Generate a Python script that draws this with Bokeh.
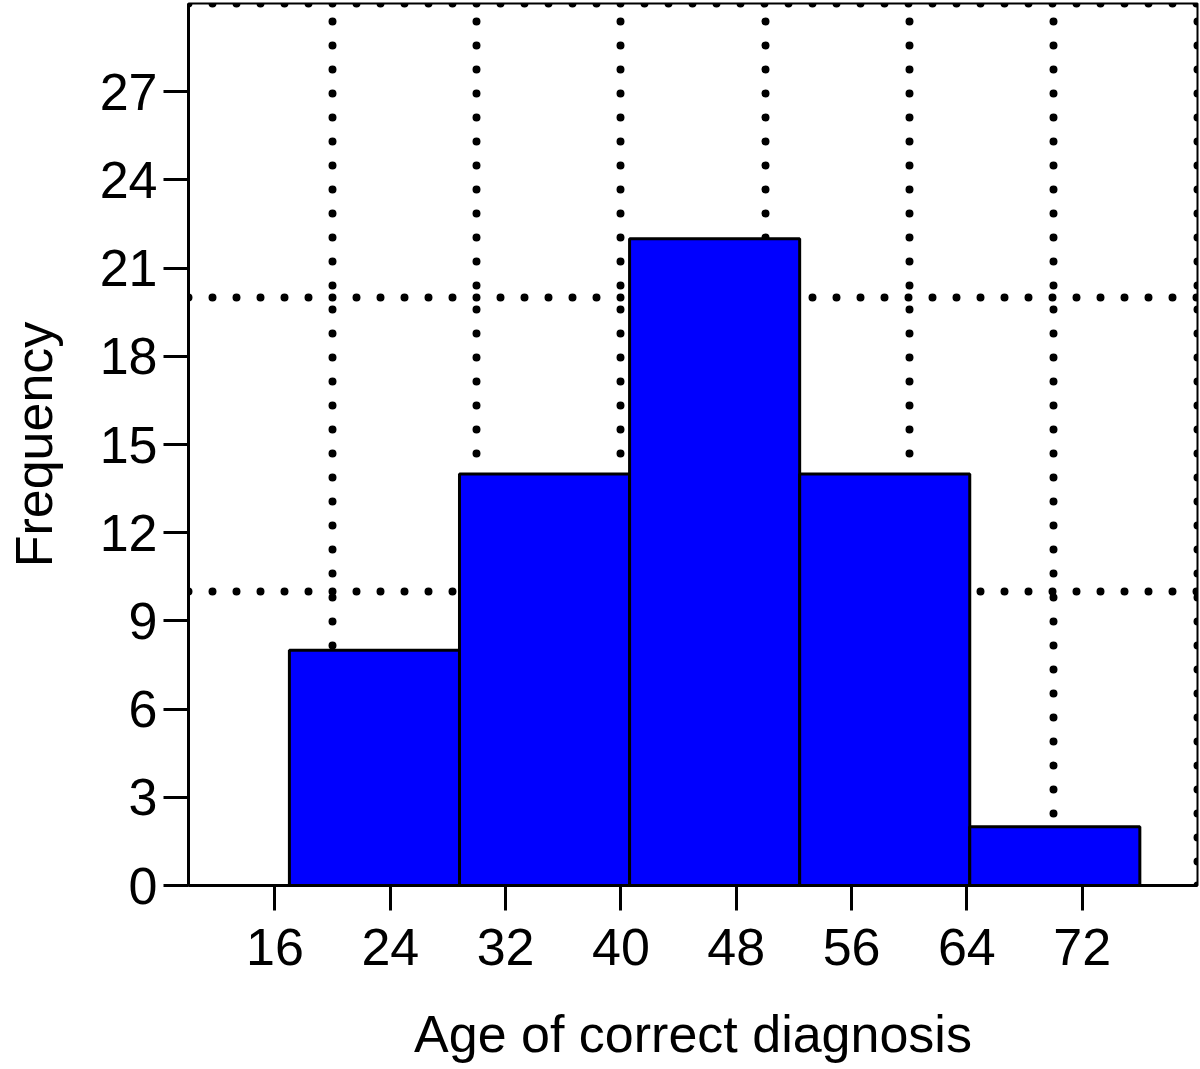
from bokeh.plotting import figure
from bokeh.models import Range1d, FixedTicker
from bokeh.embed import file_html
from bokeh.resources import INLINE

# ---- data ----
bin_edges = [17.0, 28.8, 40.6, 52.4, 64.2, 76.0]
frequencies = [8, 14, 22, 14, 2]
x_ticks = [16, 24, 32, 40, 48, 56, 64, 72]
y_ticks = [0, 3, 6, 9, 12, 15, 18, 21, 24, 27]
x_grid = [10, 20, 30, 40, 50, 60, 70, 80]
y_grid = [10, 20, 30]
x_label = "Age of correct diagnosis"
y_label = "Frequency"

FONT = "Liberation Sans"

p = figure(
    frame_width=1009, frame_height=882,
    min_border_left=188, min_border_right=2, min_border_top=3, min_border_bottom=182,
    x_range=Range1d(10, 80.0001), y_range=Range1d(0, 30.0001),
    output_backend="svg", toolbar_location=None,
)
p.outline_line_color = "black"
p.outline_line_width = 2
p.background_fill_color = "white"
p.border_fill_color = "white"

p.quad(left=bin_edges[:-1], right=bin_edges[1:], top=frequencies, bottom=0,
       fill_color="#0000FF", line_color="black", line_width=3)

for ax in (p.xaxis[0], p.yaxis[0]):
    ax.axis_line_width = 3
    ax.axis_line_color = "black"
    ax.major_tick_line_width = 3
    ax.major_tick_line_color = "black"
    ax.major_tick_out = 25
    ax.major_tick_in = 0
    ax.minor_tick_line_color = None
    ax.major_label_text_font = FONT
    ax.major_label_text_font_size = "52px"
    ax.major_label_text_color = "black"
    ax.axis_label_text_font = FONT
    ax.axis_label_text_font_size = "52px"
    ax.axis_label_text_font_style = "normal"
    ax.axis_label_text_color = "black"

p.xaxis[0].ticker = FixedTicker(ticks=x_ticks)
p.yaxis[0].ticker = FixedTicker(ticks=y_ticks)
p.xaxis[0].axis_label = x_label
p.yaxis[0].axis_label = y_label
p.xaxis[0].major_label_standoff = 18
p.xaxis[0].axis_label_standoff = 37
p.yaxis[0].major_label_standoff = 6
p.yaxis[0].axis_label_standoff = 34

p.xgrid[0].ticker = FixedTicker(ticks=x_grid)
p.ygrid[0].ticker = FixedTicker(ticks=y_grid)
for g in (p.xgrid[0], p.ygrid[0]):
    g.grid_line_color = "black"
    g.grid_line_width = 8
    g.grid_line_dash = "0 24"
    g.grid_line_cap = "round"
    g.grid_line_alpha = 1.0

open("out.html", "w").write(file_html(p, INLINE))
